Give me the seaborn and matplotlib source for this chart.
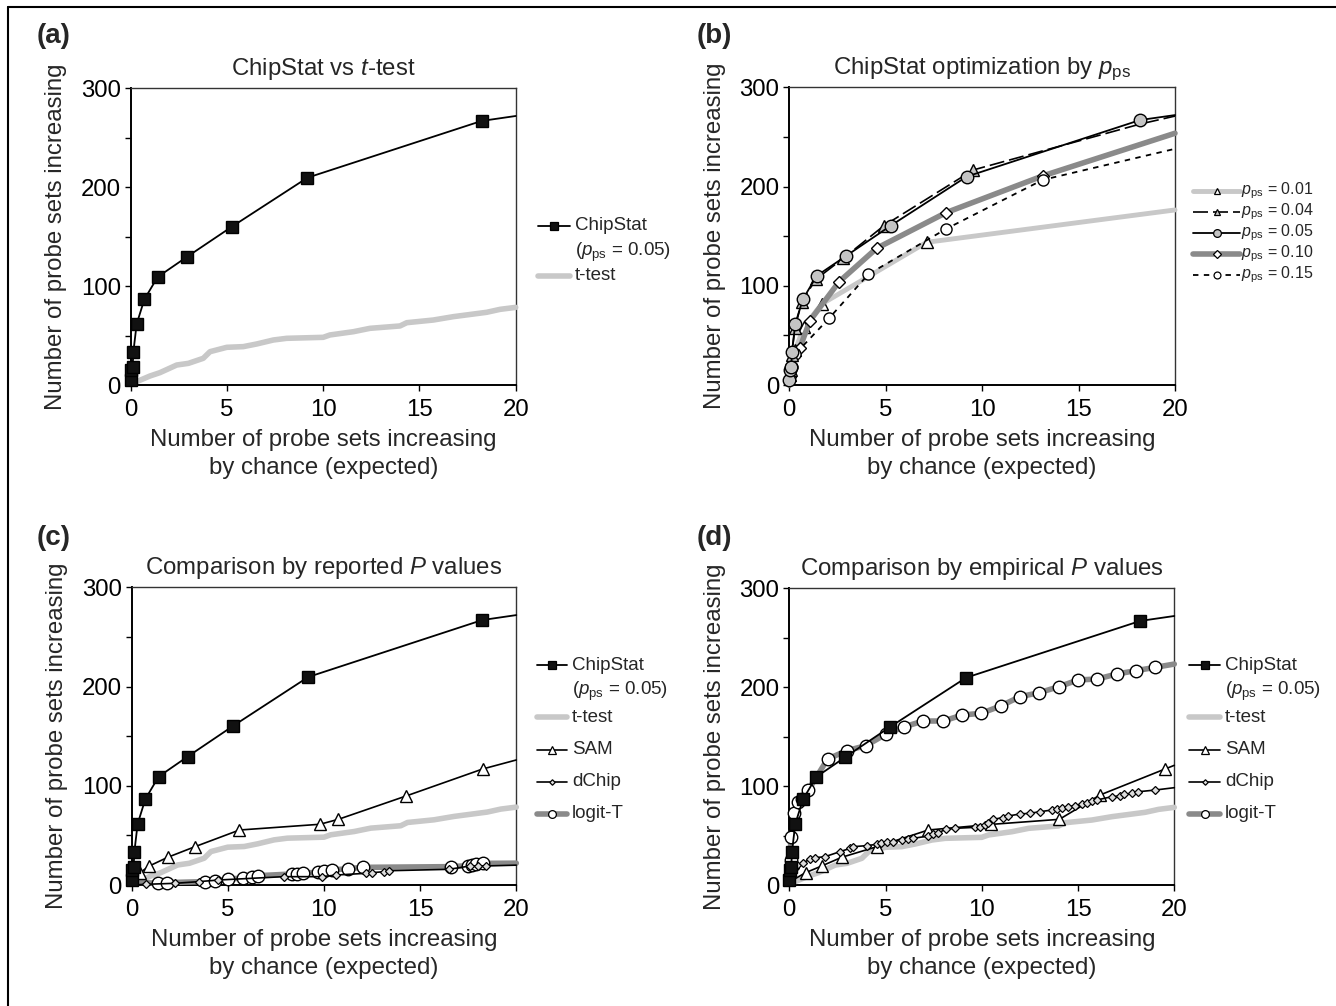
import numpy as np
import pandas as pd
import matplotlib
matplotlib.use("Agg")
import matplotlib.pyplot as plt
from matplotlib.lines import Line2D
import seaborn as sns

# ---------------- data ----------------
# ChipStat (p_ps = 0.05) -- last point is the line end (no marker)
chip_x = [0.0, 0.03, 0.10, 0.14, 0.31, 0.71, 1.40, 2.91, 5.25, 9.18, 18.23, 20.0]
chip_y = [5, 15, 18.5, 33.7, 61.7, 86.6, 109.2, 129.4, 160, 209.6, 267, 272]

# t-test (cumulative line, no markers)
ttest_x = [0.0, 0.31, 1.0, 1.52, 2.39, 3.0, 3.77, 4.12, 4.99, 5.85, 6.55, 7.41, 8.1,
           10.0, 10.35, 11.57, 12.43, 13.99, 14.34, 15.72, 16.76, 18.49, 19.19, 20.0]
ttest_y = [1.7, 3.4, 9.1, 12.5, 20.2, 21.9, 27, 33.7, 38.1, 38.8, 41.5, 45.5, 47.2,
           48.2, 50.6, 53.9, 57.3, 59.7, 63, 65.7, 69.1, 73.5, 76.5, 78.5]

# panel (b): ChipStat optimisation by p_ps
p01_x = [0.0, 0.10, 0.30, 0.76, 1.68, 7.12, 20.0]
p01_y = [0, 15, 35, 58.8, 81.6, 143.8, 176.4]
p04_x = [0.0, 0.05, 0.12, 0.29, 0.64, 1.38, 2.80, 4.91, 9.54, 18.2, 20.0]
p04_y = [0, 10, 30, 57, 84, 106.5, 127.7, 160.6, 216.7, 263, 271]
p05_x = [0.0, 0.03, 0.10, 0.14, 0.31, 0.71, 1.42, 2.94, 5.26, 9.20, 18.19, 20.0]
p05_y = [5, 15, 18.5, 33.7, 61.7, 86.6, 110, 130, 160.6, 210, 267, 272]
p10_x = [0.0, 0.05, 0.10, 0.55, 1.07, 2.58, 4.53, 8.13, 13.14, 20.0]
p10_y = [0, 8, 20, 37.6, 64.8, 104, 137.8, 173.7, 210.7, 253.7]
p15_x = [0.0, 0.12, 0.30, 2.06, 4.10, 8.13, 13.14, 20.0]
p15_y = [0, 18.4, 31, 67.2, 111.6, 157.3, 206.7, 238]

# panel (c): reported P values
samc_x = [0.0, 0.43, 0.92, 1.87, 3.29, 5.60, 9.79, 10.75, 14.27, 18.25, 20.0]
samc_y = [3, 12.4, 19.2, 27.9, 38.6, 55.4, 61.2, 66.2, 89.7, 116.9, 126]
dchipc_x = [0.0, 0.75, 2.25, 3.50, 4.50, 7.90, 9.90, 10.60, 12.20, 12.50, 13.10,
            13.40, 16.50, 17.60, 18.00, 18.40, 20.0]
dchipc_y = [0, 0.7, 1.7, 3.4, 5, 8.4, 8.4, 10, 11.8, 12.4, 13.4, 14.4, 15.8,
            19.2, 19.2, 19.2, 20]
logitc_x = [0.0, 1.39, 1.82, 3.81, 4.33, 5.03, 5.81, 6.24, 6.59, 8.32, 8.60, 8.93,
            9.71, 10.0, 10.43, 11.27, 12.05, 16.59, 17.50, 17.70, 17.90, 18.25, 20.0]
logitc_y = [3, 1.7, 2.4, 3.4, 4.4, 5.7, 7.4, 8.4, 9.4, 11.1, 11.5, 11.8, 13.1,
            14.4, 15.1, 16.5, 17.8, 18.5, 19.5, 20.0, 20.8, 21.8, 22]

# panel (d): empirical P values
samd_x = [0.0, 0.85, 1.68, 2.72, 4.54, 7.22, 10.50, 14.03, 16.14, 19.52, 20.0]
samd_y = [3, 12.5, 19.2, 28, 38.7, 55.6, 61.3, 66.4, 91, 117.3, 121]
dchipd_x = [0.0, 0.12, 0.29, 0.38, 0.73, 1.07, 1.33, 1.85, 2.63, 3.15, 3.29, 4.02,
            4.54, 4.74, 5.09, 5.40, 5.84, 6.18, 6.44, 7.22, 7.48, 7.74, 8.14, 8.60,
            9.65, 9.90, 10.16, 10.34, 10.60, 11.08, 11.38, 11.98, 12.50, 13.02,
            13.63, 13.89, 14.15, 14.49, 14.84, 15.19, 15.45, 15.70, 15.97, 16.75,
            17.18, 17.40, 17.78, 18.13, 19.00, 20.0]
dchipd_y = [3, 10, 17, 20, 22.6, 26, 27.6, 28.6, 33.7, 37, 38.7, 39.8, 41.1, 42.1,
            43.1, 43.8, 45.5, 46.2, 47.2, 49.5, 51.2, 52.9, 56.3, 57.3, 58.3, 59,
            60.7, 63, 66.4, 68.1, 69.8, 71.8, 72.5, 74.1, 75.8, 77.2, 78.2, 79.2,
            80.2, 81.9, 83.2, 84.9, 85.9, 89.3, 90, 91.6, 92.7, 94.3, 96, 98.4]
logitd_x = [0.0, 0.07, 0.07, 0.26, 0.47, 0.68, 0.99, 1.99, 2.98, 3.98, 5.00, 5.97,
            6.96, 8.00, 8.99, 9.97, 10.98, 11.98, 12.99, 14.00, 15.00, 16.00, 17.00,
            17.99, 18.99, 20.0]
logitd_y = [2, 25, 49, 72.5, 83.6, 87, 96, 127.4, 135.8, 140.9, 152.3, 160, 165.8,
            165.8, 171.9, 173.6, 181, 190.4, 194.5, 200.5, 207.3, 208.3, 213.3,
            216.7, 220, 223.4]

x_ticks = [0, 5, 10, 15, 20]
y_ticks = [0, 100, 200, 300]
titles = [r"ChipStat vs $t$-test", r"ChipStat optimization by $p_{\mathrm{ps}}$",
          r"Comparison by reported $P$ values", r"Comparison by empirical $P$ values"]
panel_labels = ["(a)", "(b)", "(c)", "(d)"]
x_label = "Number of probe sets increasing\nby chance (expected)"
y_label = "Number of probe sets increasing"

# ---------------- style ----------------
sns.set_style("ticks")
plt.rcParams["font.family"] = ["Liberation Sans", "DejaVu Sans"]
plt.rcParams["mathtext.fontset"] = "custom"
plt.rcParams["mathtext.rm"] = "Liberation Sans"
plt.rcParams["mathtext.it"] = "Liberation Sans:italic"
plt.rcParams["mathtext.bf"] = "Liberation Sans:bold"

W, H = 1336, 1006
fig = plt.figure(figsize=(W / 100, H / 100), dpi=100)

LIGHT = "#c8c8c8"
DARK = "#8a8a8a"
MIDF = "#c4c4c4"

ST = {
    "chip": dict(color="black", lw=1.3, marker="s", ms=8.5, mfc="#111111", mec="black", mew=1.0),
    "ttest": dict(color=LIGHT, lw=4.0),
    "p01": dict(color=LIGHT, lw=3.5, marker="^", ms=8, mfc="white", mec="black", mew=1.0),
    "p04": dict(color="black", lw=1.2, ls=(0, (9, 3)), marker="^", ms=8, mfc=MIDF, mec="black", mew=1.0),
    "p05": dict(color="black", lw=1.3, marker="o", ms=9, mfc=MIDF, mec="black", mew=1.0),
    "p10": dict(color=DARK, lw=4.0, marker="D", ms=6.5, mfc="white", mec="black", mew=1.0),
    "p15": dict(color="black", lw=1.3, ls=(0, (3, 3)), marker="o", ms=8, mfc="white", mec="black", mew=1.0),
    "sam": dict(color="black", lw=1.2, marker="^", ms=9, mfc="white", mec="black", mew=1.0),
    "dchip": dict(color="black", lw=1.2, marker="D", ms=4.5, mfc="#dddddd", mec="black", mew=0.9),
    "logit": dict(color=DARK, lw=4.0, marker="o", ms=9, mfc="white", mec="black", mew=1.0),
}


def draw(ax, xs, ys, key, first_marked=1):
    df = pd.DataFrame({"x": xs, "y": ys})
    st = dict(ST[key])
    if "marker" in st:
        st["markevery"] = list(range(first_marked, len(xs) - 1))
    sns.lineplot(data=df, x="x", y="y", ax=ax, sort=False, estimator=None,
                 legend=False, clip_on=False, zorder=3, **st)


def make_ax(px_left, px_top, px_right, px_bottom):
    return fig.add_axes([px_left / W, 1 - px_bottom / H,
                         (px_right - px_left) / W, (px_bottom - px_top) / H])


axes = [make_ax(130.7, 88.3, 515.7, 385), make_ax(789.3, 87.3, 1175, 385),
        make_ax(131.7, 587.3, 516.3, 885), make_ax(789.3, 588.3, 1174.3, 885)]

# panel a
draw(axes[0], ttest_x, ttest_y, "ttest")
draw(axes[0], chip_x, chip_y, "chip", 0)
# panel b
draw(axes[1], p01_x, p01_y, "p01")
draw(axes[1], p10_x, p10_y, "p10")
draw(axes[1], p15_x, p15_y, "p15")
draw(axes[1], p04_x, p04_y, "p04")
axes[1].lines[-1].set_markevery(list(range(1, 9)))
draw(axes[1], p05_x, p05_y, "p05", 0)
# panel c
draw(axes[2], ttest_x, ttest_y, "ttest")
draw(axes[2], logitc_x, logitc_y, "logit")
draw(axes[2], dchipc_x, dchipc_y, "dchip")
draw(axes[2], samc_x, samc_y, "sam")
draw(axes[2], chip_x, chip_y, "chip", 0)
# panel d
draw(axes[3], ttest_x, ttest_y, "ttest")
draw(axes[3], samd_x, samd_y, "sam")
draw(axes[3], dchipd_x, dchipd_y, "dchip")
draw(axes[3], logitd_x, logitd_y, "logit")
draw(axes[3], chip_x, chip_y, "chip", 0)

for ax, title in zip(axes, titles):
    ax.set_xlim(0, 20)
    ax.set_ylim(0, 300)
    ax.set_xticks(x_ticks)
    ax.set_yticks(y_ticks)
    ax.set_yticks([50, 150, 250], minor=True)
    ax.tick_params(axis="both", which="both", direction="out", length=4, width=1.0,
                   labelsize=17.3, colors="black")
    ax.tick_params(axis="x", pad=6)
    ax.tick_params(axis="y", pad=3)
    ax.set_title(title, fontsize=17.3, pad=9.5)
    ax.set_xlabel(x_label, fontsize=17.3, labelpad=6, linespacing=1.35)
    ax.set_ylabel(y_label, fontsize=17.3, labelpad=10)
    for s in ["left", "bottom"]:
        ax.spines[s].set_linewidth(1.4)
        ax.spines[s].set_color("black")
    for s in ["top", "right"]:
        ax.spines[s].set_visible(True)
        ax.spines[s].set_linewidth(1.0)
        ax.spines[s].set_color("#333333")

# panel labels
for lab, (px, py) in zip(panel_labels, [(37, 36), (697, 36), (37, 538), (697, 538)]):
    fig.text(px / W, 1 - py / H, lab, fontsize=20, fontweight="bold", ha="left", va="center")


# ---------------- legends (drawn manually) ----------------
def leg(x0, x1, y, key, text, tx, fs=13.5):
    st = dict(ST[key])
    marker = {k: st.pop(k) for k in ["marker", "ms", "mfc", "mec", "mew"] if k in st}
    if marker:
        marker["ms"] = marker["ms"] * 0.62
        marker["mew"] = 0.9
    yy = 1 - y / H
    fig.add_artist(Line2D([x0 / W, x1 / W], [yy, yy], transform=fig.transFigure, **st))
    if marker:
        fig.add_artist(Line2D([(x0 + x1) / 2 / W], [yy], transform=fig.transFigure,
                              ls="none", **marker))
    if text:
        fig.text(tx / W, yy, text, fontsize=fs, ha="left", va="center")


pps05 = r"($p_{\mathrm{ps}}$ = 0.05)"
# (a)
leg(538, 570, 226, "chip", "ChipStat", 575)
fig.text(575 / W, 1 - 252 / H, pps05, fontsize=13.5, ha="left", va="center")
leg(538, 570, 276, "ttest", "t-test", 575)
# (b)
for yy, key, v in zip([191, 212, 233, 254, 275], ["p01", "p04", "p05", "p10", "p15"],
                      ["0.01", "0.04", "0.05", "0.10", "0.15"]):
    leg(1193, 1240, yy, key, r"$p_{\mathrm{ps}}$ = " + v, 1241, fs=11.5)
# (c) and (d)
for x0, x1, tx in [(537, 567, 572), (1189, 1220, 1225)]:
    leg(x0, x1, 665, "chip", "ChipStat", tx)
    fig.text(tx / W, 1 - 691 / H, pps05, fontsize=13.5, ha="left", va="center")
    leg(x0, x1, 717, "ttest", "t-test", tx)
    leg(x0, x1, 750, "sam", "SAM", tx)
    leg(x0, x1, 782, "dchip", "dChip", tx)
    leg(x0, x1, 814, "logit", "logit-T", tx)

# figure frame (top and left edges)
fig.add_artist(Line2D([8 / W, 1.0], [1 - 7 / H, 1 - 7 / H], transform=fig.transFigure,
                      color="black", lw=1.5))
fig.add_artist(Line2D([8 / W, 8 / W], [0.0, 1 - 7 / H], transform=fig.transFigure,
                      color="black", lw=1.5))

fig.savefig("out.png", dpi=100, facecolor="white")
